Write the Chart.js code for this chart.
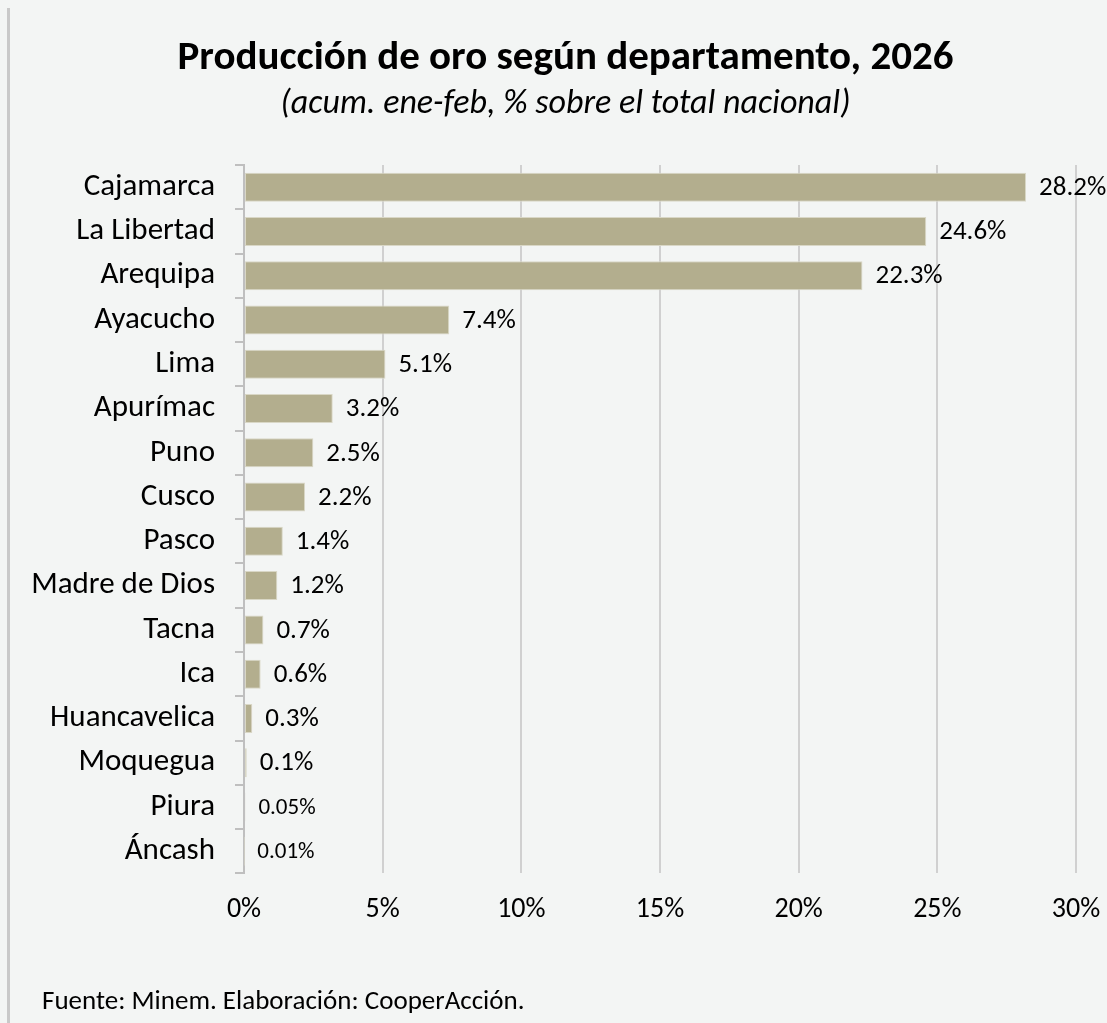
<!DOCTYPE html>
<html>
<head>
<meta charset="utf-8">
<script src="https://cdn.jsdelivr.net/npm/chart.js@4.4.1/dist/chart.umd.min.js"></script>
<style>
    html, body { margin: 0; padding: 0; background: #f3f5f4; }
    #wrap { position: relative; width: 1107px; height: 1023px; }
    #border { position: absolute; left: 7px; top: 8px; width: 3px; height: 1015px; background: #c9c9c9; }
    #footer { position: absolute; left: 42px; top: 983px; font: 27px Carlito, Lato, sans-serif; color: #000; }
</style>
</head>
<body>
<div id="wrap">
    <div id="border"></div>
    <canvas id="goldChart" width="1107" height="1023"></canvas>
    <div id="footer">Fuente: Minem. Elaboración: CooperAcción.</div>
</div>
<script>
// Producción de oro por departamento (% del total nacional)
const departamentos = [
    'Cajamarca', 'La Libertad', 'Arequipa', 'Ayacucho', 'Lima', 'Apurímac',
    'Puno', 'Cusco', 'Pasco', 'Madre de Dios', 'Tacna', 'Ica',
    'Huancavelica', 'Moquegua', 'Piura', 'Áncash'
];
const participacion = [28.2, 24.6, 22.3, 7.4, 5.1, 3.2, 2.5, 2.2, 1.4, 1.2, 0.7, 0.6, 0.3, 0.1, 0.05, 0.01];
const xTicks = [0, 5, 10, 15, 20, 25, 30];

const FONT = 'Carlito, Lato, sans-serif';
const BAR_COLOR = '#b3ae8e';

function formatLabel(v) {
    return (v < 0.1 ? v.toFixed(2) : v.toFixed(1)) + '%';
}

// Etiquetas de datos al final de cada barra
const barLabels = {
    id: 'barLabels',
    afterDatasetsDraw(chart) {
        const ctx = chart.ctx;
        const meta = chart.getDatasetMeta(0);
        ctx.save();
        ctx.fillStyle = '#000';
        ctx.textBaseline = 'middle';
        ctx.textAlign = 'left';
        meta.data.forEach((bar, i) => {
            const v = participacion[i];
            ctx.font = (v < 0.1 ? 23 : 27) + 'px ' + FONT;
            ctx.fillText(formatLabel(v), bar.x + 13, bar.y + 1);
        });
        ctx.restore();
    }
};

const ctx = document.getElementById('goldChart');
const goldChart = new Chart(ctx, {
    type: 'bar',
    data: {
        labels: departamentos,
        datasets: [{
            data: participacion,
            backgroundColor: BAR_COLOR,
            borderColor: '#d9d7c6',
            borderWidth: 1,
            borderSkipped: false,
            barPercentage: 0.655,
            categoryPercentage: 1
        }]
    },
    options: {
        indexAxis: 'y',
        responsive: false,
        animation: false,
        layout: {
            padding: { left: 24, right: 0, top: 0, bottom: 76 }
        },
        plugins: {
            legend: { display: false },
            tooltip: { enabled: false },
            title: {
                display: true,
                text: 'Producción de oro según departamento, 2026',
                color: '#000',
                font: { family: FONT, size: 41, weight: 'bold' },
                padding: { top: 34, bottom: 0 }
            },
            subtitle: {
                display: true,
                text: '(acum. ene-feb, % sobre el total nacional)',
                color: '#000',
                font: { family: FONT, size: 34, style: 'italic' },
                padding: { top: 1, bottom: 40 }
            }
        },
        scales: {
            x: {
                min: 0,
                max: 30,
                afterBuildTicks: scale => {
                    scale.ticks = xTicks.map(v => ({ value: v }));
                },
                afterFit: scale => {
                    scale.paddingLeft = 0;
                    scale.paddingRight = 31;
                },
                grid: { color: '#d0d0d0', lineWidth: 2, drawTicks: false },
                border: { display: false },
                ticks: {
                    callback: v => v + '%',
                    color: '#000',
                    font: { family: FONT, size: 28 },
                    padding: 20,
                    maxRotation: 0
                }
            },
            y: {
                afterFit: scale => { scale.width = 220; },
                grid: {
                    offset: true,
                    drawOnChartArea: false,
                    drawTicks: true,
                    tickLength: 9,
                    color: '#bfbfbf',
                    lineWidth: 2
                },
                border: { display: true, color: '#bfbfbf', width: 2 },
                ticks: {
                    color: '#000',
                    font: { family: FONT, size: 31 },
                    padding: 20,
                    autoSkip: false
                }
            }
        }
    },
    plugins: [barLabels]
});
</script>
</body>
</html>
